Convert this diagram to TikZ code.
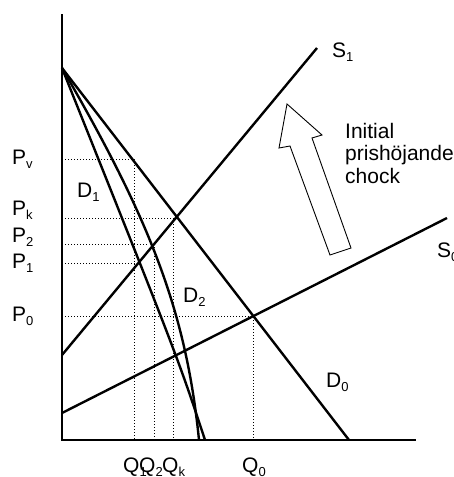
\documentclass[tikz,border=0pt]{standalone}
\usepackage{fontspec}
\setmainfont{Liberation Sans}
\newcommand\lowsub[1]{\raisebox{-4.5pt}{\fontsize{13}{13}\selectfont #1}}
\begin{document}
\begin{tikzpicture}[x=1pt,y=-1pt,
  axis/.style={line width=2.8pt, line cap=rect},
  curve/.style={line width=2.4pt},
  guide/.style={line width=1pt, dash pattern=on 1pt off 2pt},
  lab/.style={font=\fontsize{21}{24}\selectfont, inner sep=0pt, anchor=base west},
  shock/.style={line width=0.9pt, line join=miter}]
\useasboundingbox (0,0) rectangle (454,477);

% coordinates
\coordinate (ytop) at (62,15);
\coordinate (orig) at (62,440);
\coordinate (xend) at (415,440);
\coordinate (dtop) at (62,68);
\coordinate (d0end) at (349,440);
\coordinate (d1end) at (205,440);
\coordinate (d2end) at (199,440);
\coordinate (s1a) at (62,355);
\coordinate (s1b) at (317,48);
\coordinate (s0a) at (62,413);
\coordinate (s0b) at (447,218);

% guide lines
\coordinate (pv) at (62,159);   \coordinate (pvq) at (134,159); \coordinate (q1) at (134,440);
\coordinate (pk) at (62,218);   \coordinate (pke) at (177,218);
\coordinate (qkt) at (173,218); \coordinate (qk) at (173,440);
\coordinate (p2) at (62,244);   \coordinate (p2e) at (147,244);
\coordinate (q2t) at (154,244); \coordinate (q2) at (154,440);
\coordinate (p1) at (62,263);   \coordinate (p1e) at (137,263);
\coordinate (p0) at (62,316);   \coordinate (p0e) at (253,316); \coordinate (q0) at (253,440);

\draw[guide] (pv) -- (pvq) -- (q1);
\draw[guide] (pk) -- (pke);
\draw[guide] (qkt) -- (qk);
\draw[guide] (p2) -- (p2e);
\draw[guide] (q2t) -- (q2);
\draw[guide] (p1) -- (p1e);
\draw[guide] (p0) -- (p0e) -- (q0);

% curves
\draw[curve] (dtop) -- (d0end);
\draw[curve] (dtop) .. controls (177.6,357) .. (d1end);
\draw[curve] (dtop) .. controls (149,218) and (186,310) .. (d2end);
\draw[curve] (s1a) -- (s1b);
\draw[curve] (s0a) -- (s0b);

% axes
\draw[axis] (ytop) -- (orig) -- (xend);

% shock arrow
\coordinate (tip) at (287,104);
\coordinate (lb) at (279,148);
\coordinate (lst) at (290,146);
\coordinate (lsb) at (330,255);
\coordinate (rsb) at (351,248);
\coordinate (rst) at (312,138);
\coordinate (rb) at (322,135);
\draw[shock] (tip) -- (lb) -- (lst) -- (lsb) -- (rsb) -- (rst) -- (rb) -- cycle;

% labels
\node[lab] (lpv) at (12,164) {P\lowsub{v}};
\node[lab] (lpk) at (12,215) {P\lowsub{k}};
\node[lab] (lp2) at (12,242) {P\lowsub{2}};
\node[lab] (lp1) at (12,268) {P\lowsub{1}};
\node[lab] (lp0) at (12,321) {P\lowsub{0}};
\node[lab] (ld1) at (77,197) {D\lowsub{1}};
\node[lab] (ld2) at (183,302) {D\lowsub{2}};
\node[lab] (ld0) at (326,387) {D\lowsub{0}};
\node[lab] (ls1) at (332,57) {S\lowsub{1}};
\node[lab] (ls0) at (437,257) {S\lowsub{0}};
\node[lab] (lq1) at (123,472) {Q\lowsub{1}};
\node[lab] (lq2) at (139,472) {Q\lowsub{2}};
\node[lab] (lqk) at (162,472) {Q\lowsub{k}};
\node[lab] (lq0) at (242,472) {Q\lowsub{0}};
\node[lab] (t1) at (345,138) {Initial};
\node[lab] (t2) at (345,160) {prishöjande};
\node[lab] (t3) at (345,183) {chock};
\end{tikzpicture}
\end{document}
